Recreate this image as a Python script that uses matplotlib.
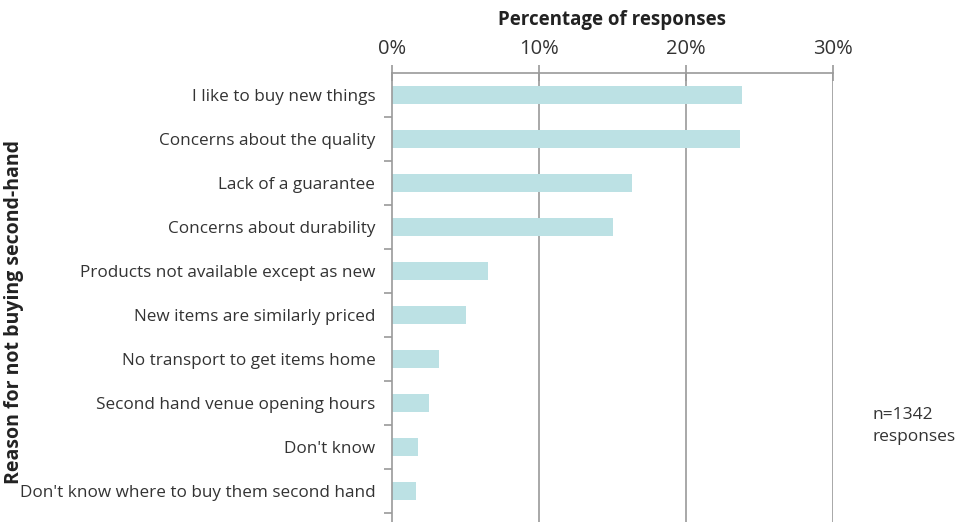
import matplotlib
matplotlib.use("Agg")
import matplotlib.pyplot as plt
from matplotlib.ticker import FixedLocator

categories = [
    "I like to buy new things",
    "Concerns about the quality",
    "Lack of a guarantee",
    "Concerns about durability",
    "Products not available except as new",
    "New items are similarly priced",
    "No transport to get items home",
    "Second hand venue opening hours",
    "Don't know",
    "Don't know where to buy them second hand",
]
values = [23.8, 23.7, 16.3, 15.0, 6.5, 5.0, 3.2, 2.5, 1.8, 1.6]
xticks = [0, 10, 20, 30]
xticklabels = ["0%", "10%", "20%", "30%"]

plt.rcParams['font.family'] = ['Open Sans', 'DejaVu Sans']
txt = '#333333'
grid = '#9a9a9a'

fig = plt.figure(figsize=(9.58, 5.22), dpi=100)
ax = fig.add_axes([392/958, 0.0, (833-392)/958, (522-73)/522])

y = list(range(len(categories)))
ax.barh(y, values, height=0.41, color='#bce1e4', zorder=2)
ax.set_xlim(0, 30)
ax.set_ylim(9.7, -0.5)

ax.xaxis.tick_top()
ax.xaxis.set_label_position('top')
ax.set_xticks(xticks)
ax.set_xticklabels(xticklabels, fontsize=14.5, color=txt)
ax.tick_params(axis='x', direction='inout', length=12, color=grid, pad=4, width=1.2)
ax.set_xlabel("Percentage of responses", fontsize=13.5, fontweight='bold', color='#222222', labelpad=10)

ax.set_yticks(y)
ax.set_yticklabels(categories, fontsize=12.3, color=txt)
ax.tick_params(axis='y', which='major', length=0, pad=12)
ax.yaxis.set_minor_locator(FixedLocator([i + 0.5 for i in range(len(categories))]))
ax.tick_params(axis='y', which='minor', length=6, color=grid, width=1.2, direction='out')

for s in ['right', 'bottom']:
    ax.spines[s].set_visible(False)
for s in ['top', 'left']:
    ax.spines[s].set_color(grid)
    ax.spines[s].set_linewidth(1.2)

for xv in xticks[1:]:
    ax.axvline(xv, color=grid, lw=1.2, zorder=1)

fig.text(14/958, 1 - 312/522, "Reason for not buying second-hand", rotation=90,
         ha='center', va='center', fontsize=14, fontweight='bold', color='#222222')
fig.text(872/958, 1 - 426/522, "n=1342\nresponses", ha='left', va='center',
         fontsize=12.5, color=txt, linespacing=1.45)

fig.savefig("out.png", dpi=100)
